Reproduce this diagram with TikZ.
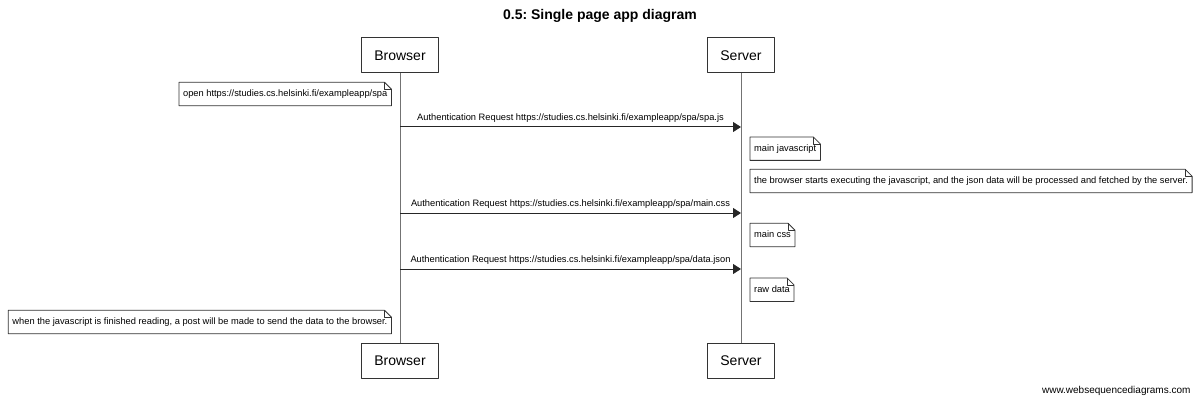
\documentclass[tikz,border=0pt]{standalone}
\usepackage{fontspec}
\setmainfont{Liberation Sans}
\usetikzlibrary{arrows.meta}
\frenchspacing

\begin{document}
\begin{tikzpicture}[x=1pt,y=-1pt,line join=round,
        actor/.style={draw=black!80,line width=1pt,minimum height=35pt,inner xsep=12.4pt,font=\fontsize{14}{16}\selectfont},
        note/.style={inner xsep=4pt,minimum height=23pt,text height=7pt,text depth=2pt,font=\fontsize{9.3}{10}\selectfont},
        fold/.style={draw=black!80,line width=0.8pt},
        lifeline/.style={draw=black!55,line width=1pt},
        msg/.style={draw=black!85,line width=1pt,-{Triangle[length=8pt,width=10pt]},font=\fontsize{9.3}{10}\selectfont}]
    \useasboundingbox (0,0) rectangle (1200,401);
    \def \spaurl{https://studies.cs.helsinki.fi/exampleapp/spa}
    \node[font=\bfseries\fontsize{14}{16}\selectfont] (title) at (600,16) {0.5: Single page app diagram};
    \node[actor] (bt) at (400,55.5) {Browser};
    \node[actor] (st) at (741,55.5) {Server};
    \node[actor] (bb) at (400,360.5) {Browser};
    \node[actor] (sb) at (741,360.5) {Server};
    \draw[lifeline] (bt) -- (bb);
    \draw[lifeline] (st) -- (sb);
    \node[note,anchor=east] (open) at (391.5,94) {open \spaurl};
    \foreach \y/\f in {127/spa.js,213/main.css,269/data.json}
        \draw[msg] (bt |- 0,\y) -- node[above=0.5pt] {Authentication Request \spaurl/\f} (st |- 0,\y);
    \node[note,anchor=west] (js) at (750,148.7) {main javascript};
    \node[note,anchor=west] (exec) at (750,181) {the browser starts executing the javascript, and the json data will be processed and fetched by the server.};
    \node[note,anchor=west] (css) at (750,235) {main css};
    \node[note,anchor=west] (raw) at (750,289.7) {raw data};
    \node[note,anchor=east] (post) at (391.5,322) {when the javascript is finished reading, a post will be made to send the data to the browser.};
    \foreach \n in {open,js,exec,css,raw,post} {
        \draw[fold] (\n.south west) -- (\n.north west) -- ([xshift=-7pt]\n.north east) -- ([yshift=-7pt]\n.north east) -- (\n.south east) -- cycle;
        \draw[fold] ([xshift=-7pt]\n.north east) |- ([yshift=-7pt]\n.north east);
    }
    \node[anchor=east,font=\fontsize{10}{12}\selectfont] (site) at (1194,391) {www.websequencediagrams.com};
\end{tikzpicture}
\end{document}
